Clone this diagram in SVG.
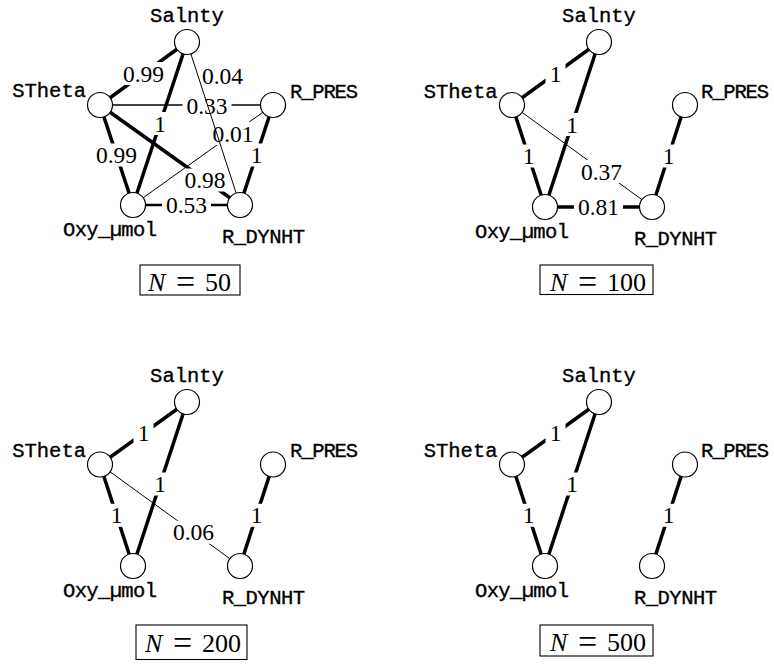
<svg xmlns="http://www.w3.org/2000/svg" width="774" height="664" viewBox="0 0 774 664">
<style>
.bg{fill:#fff}
.e{stroke:#000;fill:none}
.w{stroke-width:3.5}
.m{stroke-width:2.7}
.t{stroke-width:1.3}
.h{stroke-width:1}
.lb{fill:#fff;stroke:none}
.el{font-family:"Liberation Serif","Times New Roman",serif;font-size:23.5px;text-anchor:middle;fill:#000}
.node circle{fill:#fff;stroke:#000;stroke-width:1.2}
.nl{font-family:"Liberation Mono","Courier New",monospace;font-size:20.5px;fill:#000;stroke:#000;stroke-width:0.35}
.box rect{fill:#fff;stroke:#000;stroke-width:1.1}
.bt{font-family:"Liberation Serif","Times New Roman",serif;font-size:26px;fill:#000}
.eq{font-size:34px}
</style>
<rect class="bg" x="0" y="0" width="774" height="664"/>

<!-- ===== Panel 1 : N = 50 ===== -->
<g id="connectors-p1">
  <line class="e w" x1="100" y1="105" x2="187" y2="42"/>
  <rect class="lb" x="119" y="62" width="49" height="23"/>
  <text class="el" x="143.5" y="81.5">0.99</text>
  <line class="e t" x1="100" y1="105" x2="273" y2="105"/>
  <rect class="lb" x="182.5" y="94" width="49" height="23"/>
  <text class="el" x="207" y="113.5">0.33</text>
  <line class="e w" x1="100" y1="105" x2="133" y2="205"/>
  <rect class="lb" x="92" y="143.5" width="49" height="23"/>
  <text class="el" x="116.5" y="163">0.99</text>
  <line class="e w" x1="100" y1="105" x2="240" y2="205"/>
  <rect class="lb" x="180.5" y="168.5" width="49" height="23"/>
  <text class="el" x="205" y="188">0.98</text>
  <line class="e w" x1="187" y1="42" x2="133" y2="205"/>
  <rect class="lb" x="150" y="112" width="20" height="23"/>
  <text class="el" x="160" y="131.5">1</text>
  <line class="e h" x1="273" y1="105" x2="133" y2="205"/>
  <rect class="lb" x="208.5" y="122" width="49" height="23"/>
  <text class="el" x="233" y="141.5">0.01</text>
  <line class="e h" x1="187" y1="42" x2="240" y2="205"/>
  <text class="el" x="222.5" y="84">0.04</text>
  <line class="e w" x1="273" y1="105" x2="240" y2="205"/>
  <rect class="lb" x="246.5" y="143.5" width="20" height="23"/>
  <text class="el" x="256.5" y="163">1</text>
  <line class="e m" x1="133" y1="205" x2="240" y2="205"/>
  <rect class="lb" x="162" y="193.5" width="49" height="23"/>
  <text class="el" x="186.5" y="213">0.53</text>
</g>
<g id="p1-Salnty" class="node"><circle cx="187" cy="42" r="12.5"/><text class="nl" x="187" y="22" text-anchor="middle">Salnty</text></g>
<g id="p1-STheta" class="node"><circle cx="100" cy="105" r="12.5"/><text class="nl" x="86" y="97" text-anchor="end">STheta</text></g>
<g id="p1-R_PRES" class="node"><circle cx="273" cy="105" r="12.5"/><text class="nl" x="290" y="98" textLength="68" lengthAdjust="spacing">R_PRES</text></g>
<g id="p1-Oxy_umol" class="node"><circle cx="133" cy="205" r="12.5"/><text class="nl" x="63" y="236" textLength="94" lengthAdjust="spacing">Oxy_µmol</text></g>
<g id="p1-R_DYNHT" class="node"><circle cx="240" cy="205" r="12.5"/><text class="nl" x="222" y="243" textLength="83" lengthAdjust="spacing">R_DYNHT</text></g>
<g id="p1-label" class="box"><rect x="140" y="265" width="100" height="30"/>
  <text class="bt" y="291"><tspan x="148" font-style="italic">N</tspan><tspan class="eq" x="176" y="293">=</tspan><tspan x="205" y="291">50</tspan></text></g>

<!-- ===== Panel 2 : N = 100 ===== -->
<g id="connectors-p2">
  <line class="e w" x1="512" y1="105" x2="599" y2="42"/>
  <rect class="lb" x="545.5" y="62" width="20" height="23"/>
  <text class="el" x="555.5" y="81.5">1</text>
  <line class="e w" x1="512" y1="105" x2="545" y2="207"/>
  <rect class="lb" x="518.5" y="144.5" width="20" height="23"/>
  <text class="el" x="528.5" y="164">1</text>
  <line class="e h" x1="512" y1="105" x2="652" y2="207"/>
  <rect class="lb" x="577" y="160" width="49" height="23"/>
  <text class="el" x="601.5" y="179.5">0.37</text>
  <line class="e w" x1="599" y1="42" x2="545" y2="207"/>
  <rect class="lb" x="562" y="113" width="20" height="23"/>
  <text class="el" x="572" y="132.5">1</text>
  <line class="e w" x1="685" y1="105" x2="652" y2="207"/>
  <rect class="lb" x="658.5" y="144.5" width="20" height="23"/>
  <text class="el" x="668.5" y="164">1</text>
  <line class="e w" x1="545" y1="207" x2="652" y2="207"/>
  <rect class="lb" x="574" y="195.5" width="49" height="23"/>
  <text class="el" x="598.5" y="215">0.81</text>
</g>
<g id="p2-Salnty" class="node"><circle cx="599" cy="42" r="12.5"/><text class="nl" x="599" y="22" text-anchor="middle">Salnty</text></g>
<g id="p2-STheta" class="node"><circle cx="512" cy="105" r="12.5"/><text class="nl" x="497.5" y="98" text-anchor="end">STheta</text></g>
<g id="p2-R_PRES" class="node"><circle cx="685" cy="105" r="12.5"/><text class="nl" x="701" y="98" textLength="68" lengthAdjust="spacing">R_PRES</text></g>
<g id="p2-Oxy_umol" class="node"><circle cx="545" cy="207" r="12.5"/><text class="nl" x="475" y="237.5" textLength="94" lengthAdjust="spacing">Oxy_µmol</text></g>
<g id="p2-R_DYNHT" class="node"><circle cx="652" cy="207" r="12.5"/><text class="nl" x="634" y="245" textLength="83" lengthAdjust="spacing">R_DYNHT</text></g>
<g id="p2-label" class="box"><rect x="540" y="265" width="113" height="29.5"/>
  <text class="bt" y="291"><tspan x="550" font-style="italic">N</tspan><tspan class="eq" x="578" y="293">=</tspan><tspan x="607" y="291">100</tspan></text></g>

<!-- ===== Panel 3 : N = 200 ===== -->
<g id="connectors-p3">
  <line class="e w" x1="100" y1="464.5" x2="187" y2="402"/>
  <rect class="lb" x="133.5" y="421.8" width="20" height="23"/>
  <text class="el" x="143.5" y="441.3">1</text>
  <line class="e w" x1="100" y1="464.5" x2="133" y2="566"/>
  <rect class="lb" x="106.5" y="503.8" width="20" height="23"/>
  <text class="el" x="116.5" y="523.3">1</text>
  <line class="e h" x1="100" y1="464.5" x2="240" y2="566"/>
  <rect class="lb" x="169" y="520.8" width="49" height="23"/>
  <text class="el" x="193.5" y="540.3">0.06</text>
  <line class="e w" x1="187" y1="402" x2="133" y2="566"/>
  <rect class="lb" x="150" y="472.5" width="20" height="23"/>
  <text class="el" x="160" y="492">1</text>
  <line class="e w" x1="273" y1="464.5" x2="240" y2="566"/>
  <rect class="lb" x="246.5" y="503.8" width="20" height="23"/>
  <text class="el" x="256.5" y="523.3">1</text>
</g>
<g id="p3-Salnty" class="node"><circle cx="187" cy="402" r="12.5"/><text class="nl" x="187" y="382" text-anchor="middle">Salnty</text></g>
<g id="p3-STheta" class="node"><circle cx="100" cy="464.5" r="12.5"/><text class="nl" x="86" y="457" text-anchor="end">STheta</text></g>
<g id="p3-R_PRES" class="node"><circle cx="273" cy="464.5" r="12.5"/><text class="nl" x="290" y="457" textLength="68" lengthAdjust="spacing">R_PRES</text></g>
<g id="p3-Oxy_umol" class="node"><circle cx="133" cy="566" r="12.5"/><text class="nl" x="63" y="597" textLength="94" lengthAdjust="spacing">Oxy_µmol</text></g>
<g id="p3-R_DYNHT" class="node"><circle cx="240" cy="566" r="12.5"/><text class="nl" x="222" y="604" textLength="83" lengthAdjust="spacing">R_DYNHT</text></g>
<g id="p3-label" class="box"><rect x="136" y="625" width="111" height="34.5"/>
  <text class="bt" y="652"><tspan x="145" font-style="italic">N</tspan><tspan class="eq" x="173" y="654">=</tspan><tspan x="202" y="652">200</tspan></text></g>

<!-- ===== Panel 4 : N = 500 ===== -->
<g id="connectors-p4">
  <line class="e w" x1="512" y1="464.5" x2="599" y2="402"/>
  <rect class="lb" x="545.5" y="421.8" width="20" height="23"/>
  <text class="el" x="555.5" y="441.3">1</text>
  <line class="e w" x1="512" y1="464.5" x2="545" y2="566"/>
  <rect class="lb" x="518.5" y="503.8" width="20" height="23"/>
  <text class="el" x="528.5" y="523.3">1</text>
  <line class="e w" x1="599" y1="402" x2="545" y2="566"/>
  <rect class="lb" x="562" y="472.5" width="20" height="23"/>
  <text class="el" x="572" y="492">1</text>
  <line class="e w" x1="685" y1="464.5" x2="652" y2="566"/>
  <rect class="lb" x="658.5" y="503.8" width="20" height="23"/>
  <text class="el" x="668.5" y="523.3">1</text>
</g>
<g id="p4-Salnty" class="node"><circle cx="599" cy="402" r="12.5"/><text class="nl" x="599" y="382" text-anchor="middle">Salnty</text></g>
<g id="p4-STheta" class="node"><circle cx="512" cy="464.5" r="12.5"/><text class="nl" x="497.5" y="457" text-anchor="end">STheta</text></g>
<g id="p4-R_PRES" class="node"><circle cx="685" cy="464.5" r="12.5"/><text class="nl" x="701" y="457" textLength="68" lengthAdjust="spacing">R_PRES</text></g>
<g id="p4-Oxy_umol" class="node"><circle cx="545" cy="566" r="12.5"/><text class="nl" x="475" y="597" textLength="94" lengthAdjust="spacing">Oxy_µmol</text></g>
<g id="p4-R_DYNHT" class="node"><circle cx="652" cy="566" r="12.5"/><text class="nl" x="634" y="604" textLength="83" lengthAdjust="spacing">R_DYNHT</text></g>
<g id="p4-label" class="box"><rect x="540" y="625" width="113" height="31"/>
  <text class="bt" y="651"><tspan x="550" font-style="italic">N</tspan><tspan class="eq" x="578" y="653">=</tspan><tspan x="607" y="651">500</tspan></text></g>
</svg>
